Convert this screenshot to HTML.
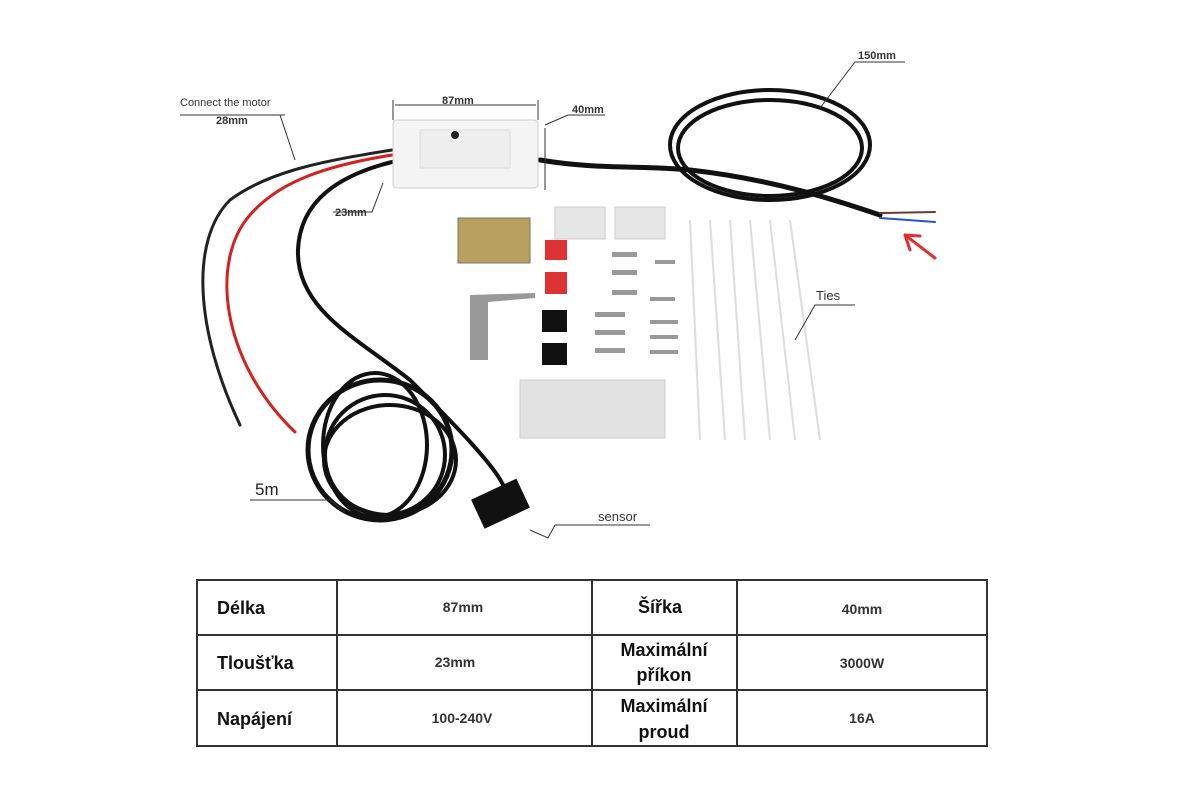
<!DOCTYPE html>
<html><head><meta charset="utf-8"><style>
html,body{margin:0;padding:0;background:#fff;width:1200px;height:800px;overflow:hidden}
svg{position:absolute;left:0;top:0}
.t{font-family:"Liberation Sans",sans-serif}
.b{font-family:"Liberation Sans","DejaVu Sans",sans-serif;font-weight:bold;font-size:18px;fill:#111}
.v{font-family:"Liberation Sans","DejaVu Sans",sans-serif;font-size:14px;font-weight:bold;fill:#333}
</style></head><body>
<svg width="1200" height="800" viewBox="0 0 1200 800">
<rect width="1200" height="800" fill="#fff"/>
<!-- wires -->
<g fill="none" stroke-linecap="round">
<path d="M392 150 C330 160 270 170 230 200 C190 240 195 330 240 425" stroke="#222" stroke-width="3"/>
<path d="M392 155 C330 165 280 180 250 215 C210 260 220 360 295 432" stroke="#d62020" stroke-width="3"/>
<path d="M392 162 C340 175 300 200 298 250 C296 310 360 340 410 380 C450 420 500 470 505 490" stroke="#111" stroke-width="4"/>
<ellipse cx="380" cy="450" rx="72" ry="70" stroke="#111" stroke-width="5"/>
<ellipse cx="385" cy="455" rx="60" ry="60" stroke="#111" stroke-width="4"/>
<ellipse cx="375" cy="445" rx="52" ry="72" stroke="#111" stroke-width="4"/>
<ellipse cx="390" cy="460" rx="66" ry="55" stroke="#111" stroke-width="4"/>
<path d="M540 160 C600 170 640 165 690 170 C780 180 850 205 880 215" stroke="#111" stroke-width="5"/>
<ellipse cx="770" cy="145" rx="100" ry="55" stroke="#111" stroke-width="4"/>
<ellipse cx="770" cy="148" rx="92" ry="48" stroke="#111" stroke-width="4"/>
<path d="M880 213 L935 212" stroke="#6b3a2a" stroke-width="2"/>
<path d="M880 218 L935 222" stroke="#2a50d0" stroke-width="2"/>
<path d="M905 235 L935 258 M905 235 L910 250 M905 235 L920 236" stroke="#e03030" stroke-width="3"/>
</g>
<!-- controller box -->
<rect x="393" y="120" width="145" height="68" rx="4" fill="#f4f4f4" stroke="#ccc"/>
<rect x="420" y="130" width="90" height="38" fill="#eee" stroke="#ddd"/>
<circle cx="455" cy="135" r="4" fill="#222"/>
<!-- accessories -->
<rect x="458" y="218" width="72" height="45" fill="#b8a060" stroke="#776"/>
<rect x="545" y="240" width="22" height="20" fill="#d33"/>
<rect x="545" y="272" width="22" height="22" fill="#d33"/>
<path d="M470 295 L470 360 L488 360 L488 302 L535 298 L535 293 Z" fill="#999"/>
<rect x="542" y="310" width="25" height="22" fill="#111"/>
<rect x="542" y="343" width="25" height="22" fill="#111"/>
<rect x="555" y="207" width="50" height="32" fill="#e6e6e6" stroke="#ccc"/>
<rect x="615" y="207" width="50" height="32" fill="#e6e6e6" stroke="#ccc"/>
<rect x="520" y="380" width="145" height="58" fill="#e2e2e2" stroke="#ccc"/>
<g fill="#999"><rect x="612" y="252" width="25" height="5"/><rect x="655" y="260" width="20" height="4"/><rect x="612" y="270" width="25" height="5"/><rect x="612" y="290" width="25" height="5"/><rect x="650" y="297" width="25" height="4"/><rect x="595" y="312" width="30" height="5"/><rect x="650" y="320" width="28" height="4"/><rect x="595" y="330" width="30" height="5"/><rect x="650" y="335" width="28" height="4"/><rect x="595" y="348" width="30" height="5"/><rect x="650" y="350" width="28" height="4"/></g>
<rect x="476" y="488" width="50" height="32" fill="#111" transform="rotate(-25 500 505)"/>
<g stroke="#ddd" stroke-width="2" fill="none"><path d="M690 220 L700 440 M710 220 L725 440 M730 220 L745 440 M750 220 L770 440 M770 220 L795 440 M790 220 L820 440"/></g>
<!-- leaders & labels -->
<g stroke="#333" stroke-width="1" fill="none">
<path d="M393 100 L393 120 M538 100 L538 120 M395 105 L536 105"/>
<path d="M545 128 L545 190 M545 125 L568 115 L605 115"/>
<path d="M820 108 L855 62 L905 62"/>
<path d="M383 183 L372 212 L333 212"/>
<path d="M280 115 L295 160 M180 115 L285 115"/>
<path d="M795 340 L815 305 L855 305"/>
<path d="M250 500 L330 500 L345 512"/>
<path d="M530 530 L548 538 L555 525 L650 525"/>
</g>
<text x="442" y="104" class="t" font-size="11" font-weight="bold" fill="#333">87mm</text>
<text x="572" y="113" class="t" font-size="11" font-weight="bold" fill="#333">40mm</text>
<text x="858" y="59" class="t" font-size="11" font-weight="bold" fill="#333">150mm</text>
<text x="335" y="216" class="t" font-size="11" font-weight="bold" fill="#333">23mm</text>
<text x="180" y="106" class="t" font-size="11" fill="#333">Connect the motor</text>
<text x="216" y="124" class="t" font-size="11" font-weight="bold" fill="#333">28mm</text>
<text x="816" y="300" class="t" font-size="13" fill="#333">Ties</text>
<text x="255" y="495" class="t" font-size="17" fill="#222">5m</text>
<text x="598" y="521" class="t" font-size="13" fill="#333">sensor</text>
<!-- table -->
<g stroke="#333" stroke-width="2" fill="none">
<rect x="197" y="580" width="790" height="166"/>
<path d="M197 635 H987 M197 690 H987 M337 580 V746 M592 580 V746 M737 580 V746"/>
</g>
<text x="217" y="614" class="b">Délka</text>
<text x="217" y="669" class="b">Tloušťka</text>
<text x="217" y="725" class="b">Napájení</text>
<text x="638" y="613" class="b">Šířka</text>
<text x="664" y="656" class="b" font-size="15" text-anchor="middle">Maximální</text>
<text x="664" y="681" class="b" font-size="15" text-anchor="middle">příkon</text>
<text x="664" y="712" class="b" font-size="15" text-anchor="middle">Maximální</text>
<text x="664" y="738" class="b" font-size="15" text-anchor="middle">proud</text>
<text x="463" y="612" class="v" text-anchor="middle">87mm</text>
<text x="455" y="667" class="v" text-anchor="middle">23mm</text>
<text x="462" y="723" class="v" text-anchor="middle">100-240V</text>
<text x="862" y="614" class="v" text-anchor="middle">40mm</text>
<text x="862" y="668" class="v" text-anchor="middle">3000W</text>
<text x="862" y="723" class="v" text-anchor="middle">16A</text>
</svg>
</body></html>
